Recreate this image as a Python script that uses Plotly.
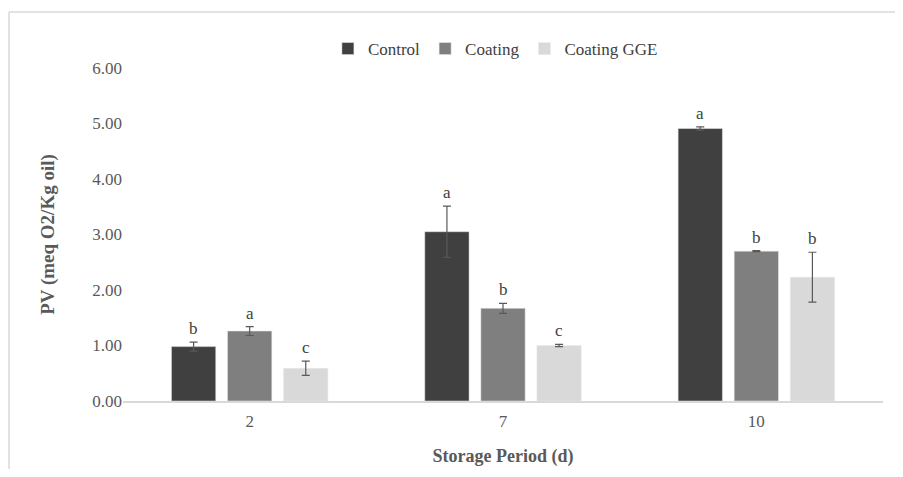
import plotly.graph_objects as go

days = ["2", "7", "10"]
series_names = ["Control", "Coating", "Coating GGE"]
control = [0.98, 3.05, 4.91]
coating = [1.26, 1.67, 2.70]
coating_gge = [0.59, 1.00, 2.23]
control_err = [0.08, 0.46, 0.03]
coating_err = [0.08, 0.09, 0.01]
coating_gge_err = [0.13, 0.02, 0.45]
control_letters = ["b", "a", "a"]
coating_letters = ["a", "b", "b"]
coating_gge_letters = ["c", "c", "b"]
y_ticks = [0, 1, 2, 3, 4, 5, 6]

colors = ["#404040", "#7f7f7f", "#d9d9d9"]
values = [control, coating, coating_gge]
errs = [control_err, coating_err, coating_gge_err]
letters = [control_letters, coating_letters, coating_gge_letters]

FONT = "Liberation Serif"
fig = go.Figure()
for name, v, e, c in zip(series_names, values, errs, colors):
    fig.add_trace(go.Bar(
        x=days, y=v, name=name,
        marker=dict(color=c, line=dict(color="#e8e8e8", width=0.5)),
        error_y=dict(type="data", array=e, visible=True, color="#595959",
                     thickness=1.2, width=4),
        offsetgroup=name,
    ))

# letter annotations above error bars
n = len(series_names)
bargap = 0.336
slot = (1 - bargap) / n
for si, (v, e, lt) in enumerate(zip(values, errs, letters)):
    for ci in range(len(days)):
        xoff = (si - (n - 1) / 2) * slot
        fig.add_annotation(
            x=ci + xoff, y=v[ci] + e[ci], xref="x", yref="y",
            text=lt[ci], showarrow=False, yanchor="bottom", yshift=2,
            font=dict(family=FONT, size=17, color="#404040"),
        )

# outer frame: only top and left edges are visible in the original
frame_top = 1 + 56 / 333
frame_left = -114 / 760
fig.add_shape(type="line", xref="paper", yref="paper",
              x0=frame_left, x1=1.02, y0=frame_top, y1=frame_top,
              line=dict(color="#d9d9d9", width=1.5), layer="below")
fig.add_shape(type="line", xref="paper", yref="paper",
              x0=frame_left, x1=frame_left, y0=-0.3, y1=frame_top,
              line=dict(color="#d9d9d9", width=1.5), layer="below")

fig.update_layout(
    width=887, height=461,
    margin=dict(l=115, r=12, t=60, b=68, autoexpand=False),
    paper_bgcolor="white", plot_bgcolor="white",
    barmode="group", bargap=bargap, bargroupgap=0.21,
    font=dict(family=FONT, color="#595959", size=17),
    legend=dict(orientation="h", x=0.49, xanchor="center", y=1 + 19 / 333,
                yanchor="middle", font=dict(family=FONT, size=17, color="#404040"),
                itemwidth=30, traceorder="normal"),
    xaxis=dict(type="category", showline=True, linecolor="#d9d9d9", linewidth=1.5,
               ticks="", automargin=False, ticklabelstandoff=4,
               tickfont=dict(size=17, color="#595959"),
               title=dict(text="<b>Storage Period (d)</b>", standoff=19,
                          font=dict(size=18, color="#595959"))),
    yaxis=dict(range=[0, 6], tickvals=y_ticks,
               ticktext=[f"{t:.2f}" for t in y_ticks], automargin=False,
               showgrid=False, zeroline=False, ticks="",
               tickfont=dict(size=17, color="#595959"),
               title=dict(text="<b>PV (meq O2/Kg oil)</b>", standoff=32,
                          font=dict(size=19, color="#595959"))),
)

fig.write_html("out.html")
